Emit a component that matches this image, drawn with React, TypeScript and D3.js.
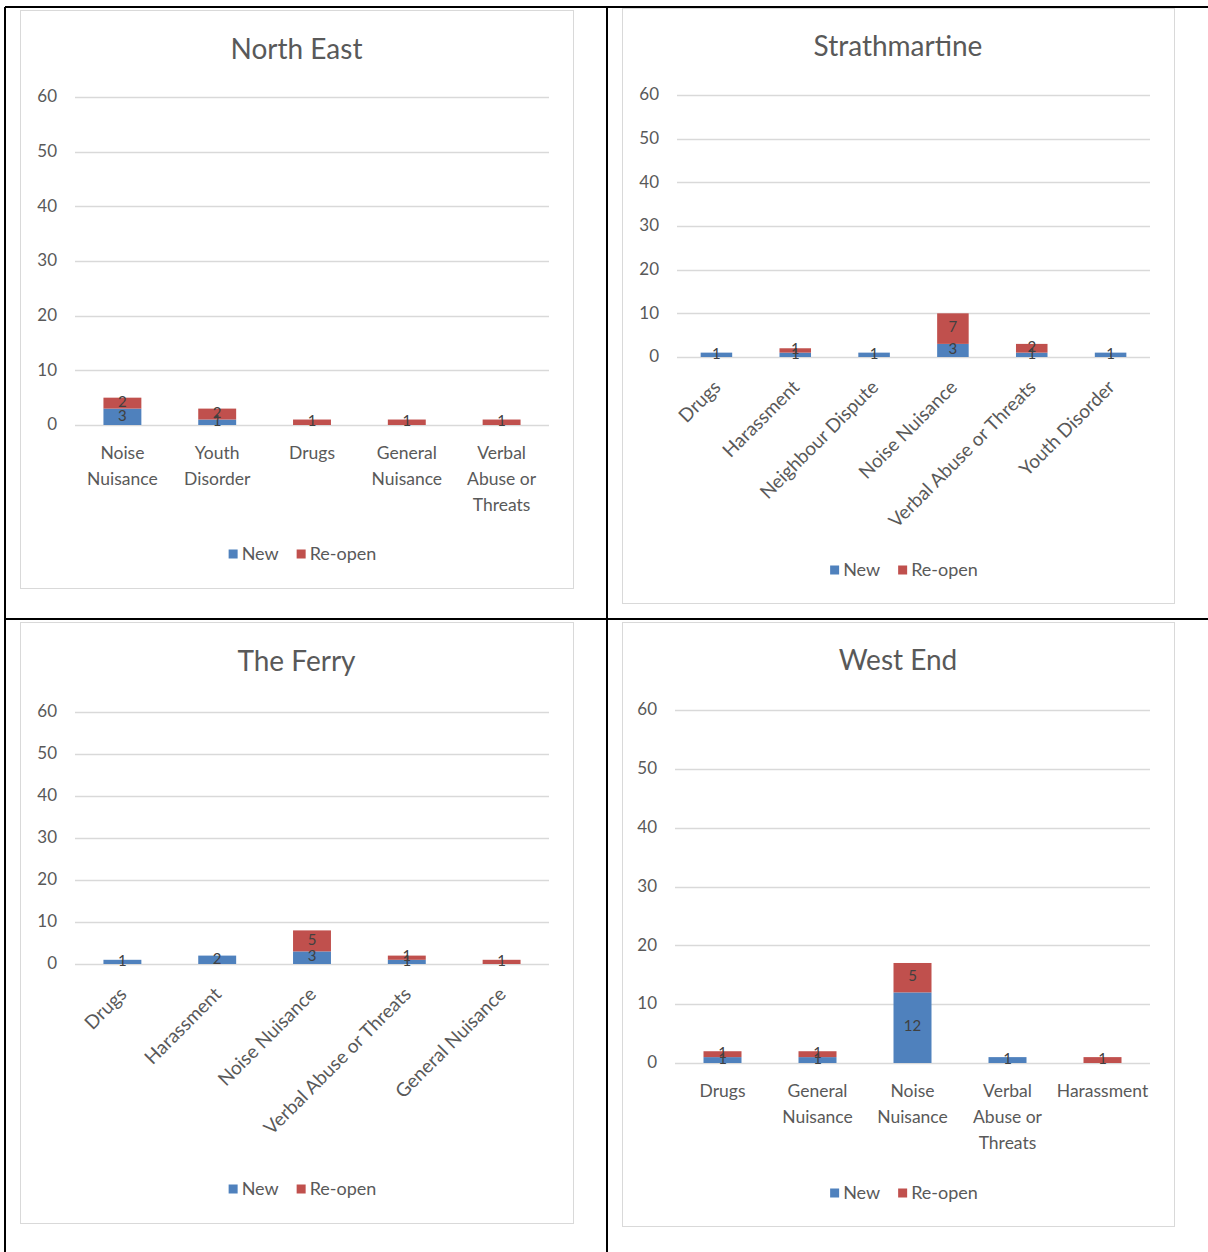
import React from "react";
import * as d3 from "d3";

// ---- Data: incidents by category, split into New and Re-open cases ----
const NE_CATEGORIES = ["Noise Nuisance", "Youth Disorder", "Drugs", "General Nuisance", "Verbal Abuse or Threats"];
const NE_NEW = [3, 1, 0, 0, 0];
const NE_REOPEN = [2, 2, 1, 1, 1];

const ST_CATEGORIES = ["Drugs", "Harassment", "Neighbour Dispute", "Noise Nuisance", "Verbal Abuse or Threats", "Youth Disorder"];
const ST_NEW = [1, 1, 1, 3, 1, 1];
const ST_REOPEN = [0, 1, 0, 7, 2, 0];

const FE_CATEGORIES = ["Drugs", "Harassment", "Noise Nuisance", "Verbal Abuse or Threats", "General Nuisance"];
const FE_NEW = [1, 2, 3, 1, 0];
const FE_REOPEN = [0, 0, 5, 1, 1];

const WE_CATEGORIES = ["Drugs", "General Nuisance", "Noise Nuisance", "Verbal Abuse or Threats", "Harassment"];
const WE_NEW = [1, 1, 12, 1, 0];
const WE_REOPEN = [1, 1, 5, 0, 1];

const Y_TICKS = [0, 10, 20, 30, 40, 50, 60];
const SERIES_NAMES = ["New", "Re-open"];

// ---- Styling ----
const COLORS = ["#4F81BD", "#C0504D"];
const TEXT = "#595959";
const LABEL = "#404040";
const GRID = "#D9D9D9";
const FONT = "Lato, 'Open Sans', sans-serif";

type Panel = {
  title: string;
  categories: string[];
  newVals: number[];
  reopenVals: number[];
  box: [number, number, number, number]; // x0, y0, x1, y1 of the chart area
  plot: [number, number, number, number]; // left, top(60), right, bottom(0)
  titleY: number;
  rotated: boolean;
  legendY: number;
};

const PANELS: Panel[] = [
  { title: "North East", categories: NE_CATEGORIES, newVals: NE_NEW, reopenVals: NE_REOPEN,
    box: [20, 10, 573, 588], plot: [75, 97, 549, 425], titleY: 52, rotated: false, legendY: 554 },
  { title: "Strathmartine", categories: ST_CATEGORIES, newVals: ST_NEW, reopenVals: ST_REOPEN,
    box: [622, 8, 1174, 603], plot: [677, 95, 1150, 357], titleY: 49, rotated: true, legendY: 570 },
  { title: "The Ferry", categories: FE_CATEGORIES, newVals: FE_NEW, reopenVals: FE_REOPEN,
    box: [20, 622, 573, 1223], plot: [75, 712, 549, 964], titleY: 664, rotated: true, legendY: 1189 },
  { title: "West End", categories: WE_CATEGORIES, newVals: WE_NEW, reopenVals: WE_REOPEN,
    box: [622, 622, 1174, 1226], plot: [675, 710, 1150, 1063], titleY: 663, rotated: false, legendY: 1193 },
];

let measureCtx: CanvasRenderingContext2D | null = null;
function textWidth(s: string, size: number): number {
  if (!measureCtx) measureCtx = document.createElement("canvas").getContext("2d");
  if (!measureCtx) return s.length * size * 0.5;
  measureCtx.font = `${size}px ${FONT}`;
  return measureCtx.measureText(s).width;
}

function wrap(label: string, maxW: number, size: number): string[] {
  const words = label.split(" ");
  const lines: string[] = [];
  let cur = "";
  for (const w of words) {
    const next = cur ? cur + " " + w : w;
    if (cur && textWidth(next, size) > maxW) {
      lines.push(cur);
      cur = w;
    } else cur = next;
  }
  if (cur) lines.push(cur);
  return lines;
}

function Chart({ p }: { p: Panel }) {
  const [l, t, r, b] = p.plot;
  const x = d3.scaleBand<string>().domain(p.categories).range([l, r]).paddingInner(0.6).paddingOuter(0.3);
  const y = d3.scaleLinear().domain([0, 60]).range([b, t]);
  const band = (r - l) / p.categories.length;

  const rows = p.categories.map((c, i) => ({ cat: c, New: p.newVals[i], "Re-open": p.reopenVals[i] }));
  const stacked = d3.stack<any>().keys(SERIES_NAMES)(rows);
  const cx = (p.box[0] + p.box[2]) / 2;
  const labelSize = 17.5;
  const rotSize = 19;
  const legendSize = 18;

  // legend layout
  const sq = 9;
  const items = SERIES_NAMES.map((n) => ({ n, w: sq + 4 + textWidth(n, legendSize) }));
  const gap = 18;
  const total = items.reduce((s, it) => s + it.w, 0) + gap * (items.length - 1);
  let lx = cx - total / 2 + 6;

  return (
    <g fontFamily={FONT}>
      <rect x={p.box[0] + 0.5} y={p.box[1] + 0.5} width={p.box[2] - p.box[0]} height={p.box[3] - p.box[1]}
        fill="#fff" stroke={GRID} strokeWidth={1} />
      <text x={cx} y={p.titleY} textAnchor="middle" dominantBaseline="middle" fontSize={28} fill={TEXT}>{p.title}</text>

      {Y_TICKS.map((v) => (
        <g key={v}>
          <line x1={l} x2={r} y1={Math.round(y(v)) + 0.5} y2={Math.round(y(v)) + 0.5} stroke={GRID} strokeWidth={1.5} />
          <text x={l - 18} y={y(v) + 1} textAnchor="end" dominantBaseline="middle" fontSize={17} fill={TEXT}>{v}</text>
        </g>
      ))}

      {stacked.map((series, si) =>
        series.map((d, i) => {
          const v = d[1] - d[0];
          if (!v) return null;
          return (
            <rect key={`${si}-${i}`} x={x(p.categories[i])} width={x.bandwidth()}
              y={y(d[1])} height={y(d[0]) - y(d[1])} fill={COLORS[si]} />
          );
        })
      )}

      {stacked.map((series, si) =>
        series.map((d, i) => {
          const v = d[1] - d[0];
          if (!v) return null;
          return (
            <text key={`l${si}-${i}`} x={(x(p.categories[i]) as number) + x.bandwidth() / 2} y={y((d[0] + d[1]) / 2)}
              textAnchor="middle" dominantBaseline="middle" fontSize={15} fill={LABEL}>{v}</text>
          );
        })
      )}

      {p.categories.map((c) => {
        const mx = (x(c) as number) + x.bandwidth() / 2;
        if (p.rotated) {
          return (
            <text key={c} transform={`translate(${mx + 2},${b + 28}) rotate(-45)`} textAnchor="end"
              dominantBaseline="middle" fontSize={rotSize} fill={TEXT}>{c}</text>
          );
        }
        const lines = wrap(c, band * 0.95, labelSize);
        return (
          <text key={c} x={mx} y={b + 34} textAnchor="middle" fontSize={labelSize} fill={TEXT}>
            {lines.map((ln, k) => (
              <tspan key={k} x={mx} dy={k === 0 ? 0 : 26}>{ln}</tspan>
            ))}
          </text>
        );
      })}

      {items.map((it, k) => {
        const x0 = lx;
        lx += it.w + gap;
        return (
          <g key={it.n}>
            <rect x={x0} y={p.legendY - sq / 2} width={sq} height={sq} fill={COLORS[k]} />
            <text x={x0 + sq + 4} y={p.legendY + 1} dominantBaseline="middle" fontSize={legendSize} fill={TEXT}>{it.n}</text>
          </g>
        );
      })}
    </g>
  );
}

export default function App() {
  const W = 1208;
  const H = 1252;
  return (
    <svg width={W} height={H} style={{ position: "absolute", left: 0, top: 0, background: "#fff" }}>
      {/* table grid that holds the four charts */}
      <g stroke="#000" strokeWidth={2}>
        <line x1={5} x2={W} y1={7} y2={7} />
        <line x1={5} x2={W} y1={619} y2={619} />
        <line x1={5} x2={5} y1={7} y2={H} />
        <line x1={607} x2={607} y1={7} y2={H} />
      </g>
      {PANELS.map((p) => (
        <Chart key={p.title} p={p} />
      ))}
    </svg>
  );
}
